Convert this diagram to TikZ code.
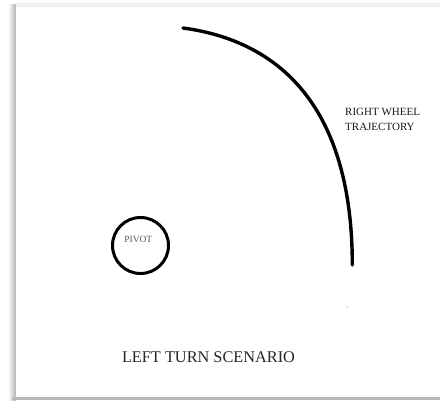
\documentclass[tikz,border=0pt]{standalone}
\usepackage{fontspec}
\setmainfont{Liberation Serif}
\begin{document}
\begin{tikzpicture}[x=1pt,y=-1pt,
  pagebg/.style={fill=white,draw=none},
  trajline/.style={line width=3.4pt,line cap=round},
  pivotcircle/.style={circle,draw,line width=3pt,minimum size=56pt,inner sep=0pt},
  pivottext/.style={font=\fontsize{9.5}{11}\selectfont,text=black!65,inner sep=0pt,anchor=base},
  sidetext/.style={font=\fontsize{11}{15}\selectfont,text=black!90,inner sep=0pt,align=left,anchor=north west},
  titletext/.style={font=\fontsize{16.3}{19}\selectfont,text=black!85,inner sep=0pt,anchor=base}]
\useasboundingbox (0,0) rectangle (440,401);
\fill[white] (0,0) rectangle (440,401);
% page shadows
\shade[left color=white,right color=black!30,draw=none] (8,5) rectangle (16,401);
\fill[black!6] (16,3) rectangle (440,7);
\fill[black!28] (12,397) rectangle (440,400.5);
\fill[pagebg] (16,7) rectangle (440,397);
% trajectory
\coordinate (arcstart) at (183,28);
\coordinate (arcend) at (352.3,265);
\draw[trajline] (arcstart) .. controls (278,40.8) and (352.3,105) .. (arcend);
\node[sidetext] (trajlabel) at (345,108.5) {RIGHT WHEEL\\TRAJECTORY};
% pivot
\node[pivotcircle] (pivot) at (140.5,245.5) {};
\node[pivottext] (pivotlabel) at (138.3,242.3) {PIVOT};
% stray dot
\fill[black!45] (347,307) circle (0.7);
% title
\node[titletext] (title) at (208.5,362.7) {LEFT TURN SCENARIO};
\end{tikzpicture}
\end{document}
